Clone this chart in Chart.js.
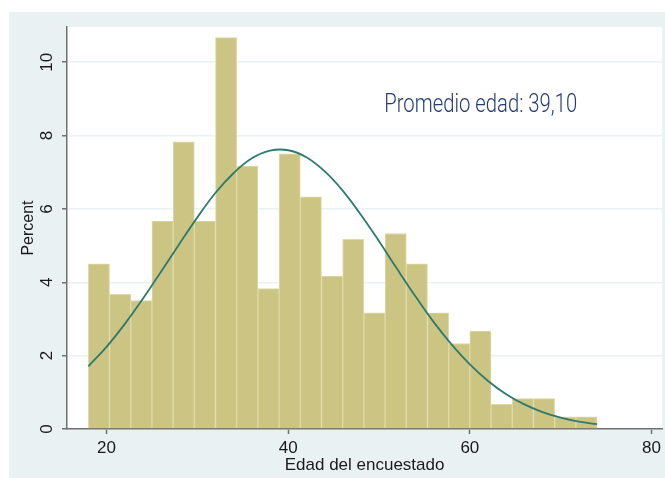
<!DOCTYPE html>
<html>
<head>
<meta charset="utf-8">
<script src="https://cdn.jsdelivr.net/npm/chart.js@4.4.1/dist/chart.umd.min.js"></script>
<style>
  html, body { margin: 0; padding: 0; background: #fff; }
  canvas { display: block; }
</style>
</head>
<body>
<canvas id="edad-chart" width="665" height="478"></canvas>
<script>
// Bordes de los intervalos de edad (años), el último es el borde superior
const binEdges = [18, 20.33, 22.67, 25, 27.33, 29.67, 32, 34.33, 36.67, 39, 41.33, 43.67,
                  46, 48.33, 50.67, 53, 55.33, 57.67, 60, 62.33, 64.67, 67, 69.33, 71.67, 74];
// Porcentaje de encuestados en cada intervalo
const percents = [4.5, 3.67, 3.5, 5.67, 7.83, 5.67, 10.67, 7.17, 3.83, 7.5, 6.33, 4.17,
                  5.17, 3.17, 5.33, 4.5, 3.17, 2.33, 2.67, 0.67, 0.83, 0.83, 0.33, 0.33];
// Curva normal
const curveAges = [18, 20, 22, 24, 26, 28, 30, 32, 34, 36, 38, 40, 42, 44, 46,
                   48, 50, 52, 54, 56, 58, 60, 62, 64, 66, 68, 70, 72, 74];
const curvePct = [1.71, 2.24, 2.86, 3.55, 4.29, 5.04, 5.77, 6.44, 6.98, 7.38, 7.59, 7.6, 7.41, 7.03, 6.5,
                  5.84, 5.12, 4.36, 3.62, 2.92, 2.3, 1.76, 1.31, 0.95, 0.67, 0.46, 0.31, 0.2, 0.13];
const xTicks = [20, 40, 60, 80];
const yTicks = [0, 2, 4, 6, 8, 10];
const noteText = 'Promedio edad: 39,10';

const noteAt = { x: 50.57, y: 8.63 };
const axisGray = '#707070';
const fontFamily = '"Liberation Sans", Arial, sans-serif';

// Fondo gris azulado de Stata y area blanca del grafico
const bandPlugin = {
    id: 'band',
    beforeDraw(chart) {
        const { ctx, chartArea: a } = chart;
        ctx.save();
        ctx.fillStyle = '#e9f1f3';
        ctx.fillRect(9, 12, chart.width - 9, chart.height - 12);
        ctx.fillStyle = '#ffffff';
        ctx.fillRect(a.left, a.top, a.right - a.left, a.bottom - a.top);
        ctx.restore();
    }
};

// Texto del promedio (fuente condensada, se estrecha a mano)
const notePlugin = {
    id: 'note',
    afterDatasetsDraw(chart) {
        const { ctx, scales } = chart;
        const x = scales.x.getPixelForValue(noteAt.x);
        const y = scales.y.getPixelForValue(noteAt.y);
        ctx.save();
        ctx.font = '300 25px Roboto';
        ctx.fillStyle = '#233a75';
        ctx.textBaseline = 'alphabetic';
        const w = ctx.measureText(noteText).width;
        ctx.translate(x, y);
        ctx.scale(193 / w, 1);
        ctx.fillText(noteText, 0, 0);
        ctx.restore();
    }
};

const bars = percents.map((p, i) => ({ x: (binEdges[i] + binEdges[i + 1]) / 2, y: p }));
const curve = curveAges.map((a, i) => ({ x: a, y: curvePct[i] }));

new Chart(document.getElementById('edad-chart'), {
    type: 'bar',
    data: {
        datasets: [{
            type: 'line',
            data: curve,
            borderColor: '#2d7a6f',
            borderWidth: 1.8,
            pointRadius: 0,
            tension: 0.4,
            fill: false,
            order: 0
        }, {
            data: bars,
            backgroundColor: '#cbc483',
            borderColor: '#dedaa8',
            borderWidth: 1,
            borderSkipped: 'bottom',
            barPercentage: 1,
            categoryPercentage: 1,
            order: 1
        }]
    },
    options: {
        responsive: false,
        animation: false,
        devicePixelRatio: 1,
        layout: { padding: { top: 27, left: 0, right: 0, bottom: 0 } },
        plugins: {
            legend: { display: false },
            tooltip: { enabled: false }
        },
        scales: {
            x: {
                type: 'linear',
                min: 15.65,
                max: 81.17,
                offset: false,
                afterFit: s => { s.height = 49; },
                afterBuildTicks: s => { s.ticks = xTicks.map(v => ({ value: v })); },
                ticks: {
                    color: '#1a1a1a',
                    font: { family: fontFamily, size: 17 },
                    padding: 4,
                    maxRotation: 0
                },
                grid: {
                    offset: false,
                    drawOnChartArea: false,
                    tickLength: 5,
                    tickColor: axisGray,
                    tickWidth: 1.5
                },
                border: { color: axisGray, width: 1.5 },
                title: {
                    display: true,
                    text: 'Edad del encuestado',
                    color: '#1a1a1a',
                    font: { family: fontFamily, size: 17 },
                    padding: { top: 0, bottom: 2 }
                }
            },
            y: {
                min: 0,
                max: 10.96,
                afterFit: s => { s.width = 67; },
                afterBuildTicks: s => { s.ticks = yTicks.map(v => ({ value: v })); },
                ticks: {
                    color: '#1a1a1a',
                    font: { family: fontFamily, size: 17 },
                    minRotation: 90,
                    maxRotation: 90,
                    crossAlign: 'center',
                    padding: 5
                },
                grid: {
                    color: '#eaf1f4',
                    lineWidth: 1.5,
                    tickLength: 5,
                    tickColor: axisGray,
                    tickWidth: 1.5
                },
                border: { color: axisGray, width: 1.5 },
                title: {
                    display: true,
                    text: 'Percent',
                    color: '#1a1a1a',
                    font: { family: fontFamily, size: 16 },
                    padding: { top: 19, bottom: 0 }
                }
            }
        }
    },
    plugins: [bandPlugin, notePlugin]
});
</script>
</body>
</html>
